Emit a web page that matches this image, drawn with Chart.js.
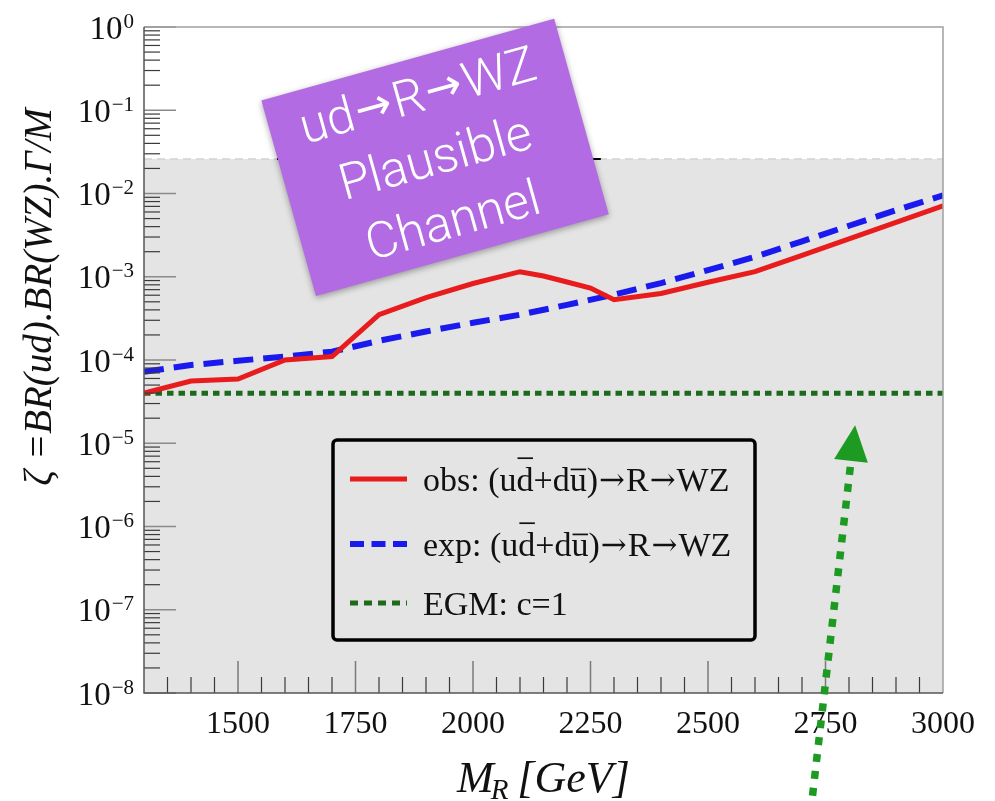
<!DOCTYPE html>
<html>
<head>
<meta charset="utf-8">
<script src="https://cdn.jsdelivr.net/npm/chart.js@4.4.1/dist/chart.umd.min.js"></script>
<style>
  html, body { margin: 0; padding: 0; background: #ffffff; }
  canvas { display: block; }
</style>
</head>
<body>
<canvas id="limit-chart" width="995" height="801"></canvas>
<script>
// Resonance mass points [GeV] and 95% CL limits on zeta
const obsMass = [1300, 1400, 1500, 1600, 1700, 1800, 1900, 2000, 2100, 2150, 2200, 2250, 2300, 2400, 2500, 2600, 2700, 2800, 2900, 3000];
const obsLimit = [4.0e-5, 5.6e-5, 5.9e-5, 1.0e-4, 1.1e-4, 3.5e-4, 5.6e-4, 8.3e-4, 1.15e-3, 1.02e-3, 8.65e-4, 7.3e-4, 5.3e-4, 6.3e-4, 8.6e-4, 1.15e-3, 1.81e-3, 2.85e-3, 4.5e-3, 7.1e-3];

const expMass = [1300, 1400, 1500, 1600, 1700, 1800, 1900, 2000, 2100, 2200, 2300, 2400, 2500, 2600, 2700, 2800, 2900, 3000];
const expLimit = [7.2e-5, 8.7e-5, 9.8e-5, 1.1e-4, 1.26e-4, 1.7e-4, 2.2e-4, 2.8e-4, 3.5e-4, 4.6e-4, 6.1e-4, 8.4e-4, 1.2e-3, 1.74e-3, 2.66e-3, 4.1e-3, 6.3e-3, 9.5e-3];

// EGM benchmark, c = 1
const egmMass = [1300, 3000];
const egmValue = [4.0e-5, 4.0e-5];

// Shaded region and the bound drawn at its top edge
const bandMass = [1300, 3000];
const bandValue = [0.026, 0.026];
const boundMass = [1583, 2272];
const boundValue = [0.026, 0.026];

// Axis ticks
const xMajorTicks = [1500, 1750, 2000, 2250, 2500, 2750, 3000];
const xMinorStep = 50;
const yDecades = [-8, -7, -6, -5, -4, -3, -2, -1, 0];

// Annotation text and anchors (in data coordinates)
const boxLines = ['ud\u2192R\u2192WZ', 'Plausible', 'Channel'];
const boxCenter = { x: 1919, y: 0.0275 };
const arrowTip = { x: 2813, y: 1.65e-5 };
const arrowTail = { x: 2721, y: 5e-10 };

const SERIF = '"Liberation Serif", "Times New Roman", serif';
const ARROW = '\u2192';

function toPoints(xs, ys) {
    return xs.map((x, i) => ({ x: x, y: ys[i] }));
}

// Draws text where a letter followed by U+0304 gets an overline,
// and arrows come from a font with a longer glyph
function drawMacronText(ctx, text, x, y, size, arrowFont) {
    const baseFont = size + 'px ' + SERIF;
    let cursor = x;
    for (let i = 0; i < text.length; i++) {
        const ch = text[i];
        if (ch === '\u0304') continue;
        if (ch === ARROW) {
            ctx.font = arrowFont;
            ctx.fillText(ch, cursor + 1, y - 1);
            cursor += ctx.measureText(ch).width + 2;
            ctx.font = baseFont;
            continue;
        }
        ctx.font = baseFont;
        ctx.fillText(ch, cursor, y);
        const w = ctx.measureText(ch).width;
        if (text[i + 1] === '\u0304') {
            const tall = 'bdfhklt'.includes(ch);
            const barY = y - (tall ? 0.95 : 0.62) * size;
            ctx.save();
            ctx.strokeStyle = ctx.fillStyle;
            ctx.lineWidth = size * 0.05;
            ctx.beginPath();
            ctx.moveTo(cursor + 1, barY);
            ctx.lineTo(cursor + w - 0.5, barY);
            ctx.stroke();
            ctx.restore();
        }
        cursor += w;
    }
}

const decorPlugin = {
    id: 'decor',
    beforeDraw(chart) {
        const ctx = chart.ctx;
        ctx.save();
        ctx.fillStyle = '#ffffff';
        ctx.fillRect(0, 0, chart.width, chart.height);
        ctx.restore();
    },
    afterDatasetsDraw(chart) {
        const ctx = chart.ctx;
        const area = chart.chartArea;
        const xs = chart.scales.x;
        const ys = chart.scales.y;

        ctx.save();
        // log minor/major ticks along the left edge
        yDecades.forEach(e => {
            const py = ys.getPixelForValue(Math.pow(10, e));
            ctx.strokeStyle = '#8a8a8a';
            ctx.lineWidth = 1.5;
            ctx.beginPath();
            ctx.moveTo(area.left, py);
            ctx.lineTo(area.left + 32, py);
            ctx.stroke();
            if (e < 0) {
                for (let m = 2; m <= 9; m++) {
                    const my = ys.getPixelForValue(m * Math.pow(10, e));
                    ctx.strokeStyle = '#3a3a3a';
                    ctx.lineWidth = 1.2;
                    ctx.beginPath();
                    ctx.moveTo(area.left, my);
                    ctx.lineTo(area.left + 16, my);
                    ctx.stroke();
                }
            }
        });
        // ticks along the bottom edge
        for (let v = xs.min + xMinorStep; v < xs.max; v += xMinorStep) {
            const px = xs.getPixelForValue(v);
            const major = xMajorTicks.includes(v);
            ctx.strokeStyle = major ? '#7a7a7a' : '#3a3a3a';
            ctx.lineWidth = major ? 1.5 : 1.2;
            ctx.beginPath();
            ctx.moveTo(px, area.bottom);
            ctx.lineTo(px, area.bottom - (major ? 32 : 16));
            ctx.stroke();
        }
        // frame
        ctx.lineWidth = 1.5;
        ctx.strokeStyle = '#a0a0a0';
        ctx.beginPath();
        ctx.moveTo(area.left, area.top);
        ctx.lineTo(area.right, area.top);
        ctx.lineTo(area.right, area.bottom);
        ctx.stroke();
        ctx.strokeStyle = '#555555';
        ctx.beginPath();
        ctx.moveTo(area.left, area.top);
        ctx.lineTo(area.left, area.bottom);
        ctx.lineTo(area.right, area.bottom);
        ctx.stroke();

        // y tick labels: 10 with a raised exponent
        ctx.fillStyle = '#111111';
        ctx.textBaseline = 'alphabetic';
        yDecades.forEach(e => {
            const py = ys.getPixelForValue(Math.pow(10, e));
            const sup = e === 0 ? '0' : '\u2212' + Math.abs(e);
            ctx.font = '21px ' + SERIF;
            const supW = ctx.measureText(sup).width;
            const right = 134;
            ctx.textAlign = 'left';
            ctx.fillText(sup, right - supW, py + 0.5);
            ctx.font = '33px ' + SERIF;
            ctx.textAlign = 'right';
            ctx.fillText('10', right - supW - 1, py + 11.5);
        });
        // x tick labels
        ctx.font = '32px ' + SERIF;
        ctx.textAlign = 'center';
        xMajorTicks.forEach(v => {
            ctx.fillText(String(v), xs.getPixelForValue(v), 733);
        });

        // x axis title: M_R [GeV]
        ctx.textAlign = 'left';
        let tx = 457;
        ctx.font = 'italic 44px ' + SERIF;
        ctx.fillText('M', tx, 792);
        tx += ctx.measureText('M').width - 3;
        ctx.font = 'italic 29px ' + SERIF;
        ctx.fillText('R', tx, 799);
        tx += ctx.measureText('R').width + 9;
        ctx.font = 'italic 44px ' + SERIF;
        ctx.fillText('[GeV]', tx, 792);

        // y axis title
        ctx.save();
        ctx.translate(51, 297);
        ctx.rotate(-Math.PI / 2);
        ctx.textAlign = 'center';
        ctx.font = 'italic 39px ' + SERIF;
        ctx.fillText('\u03B6 =BR(ud).BR(WZ).\u0393/M', 0, 0);
        ctx.restore();

        // legend box
        const lg = { left: 333, top: 440, right: 755, bottom: 640 };
        ctx.lineWidth = 3.5;
        ctx.strokeStyle = '#000000';
        ctx.beginPath();
        ctx.roundRect(lg.left, lg.top, lg.right - lg.left, lg.bottom - lg.top, 4);
        ctx.stroke();
        const rows = [479, 544, 603];
        const entries = chart.data.datasets.filter(d => d.inLegend);
        entries.forEach((d, i) => {
            const ry = rows[i];
            ctx.save();
            ctx.strokeStyle = d.borderColor;
            ctx.lineWidth = d.borderWidth;
            ctx.setLineDash(d.legendDash || []);
            ctx.beginPath();
            ctx.moveTo(350, ry);
            ctx.lineTo(407, ry);
            ctx.stroke();
            ctx.restore();
            ctx.fillStyle = '#111111';
            ctx.textAlign = 'left';
            drawMacronText(ctx, d.label, 423, ry + 11.5, 34, '31px "DejaVu Serif", serif');
        });

        // rotated label box
        const cx = xs.getPixelForValue(boxCenter.x);
        const cy = ys.getPixelForValue(boxCenter.y);
        ctx.save();
        ctx.translate(cx, cy);
        ctx.rotate(-15.6 * Math.PI / 180);
        ctx.shadowColor = 'rgba(0,0,0,0.35)';
        ctx.shadowBlur = 6;
        ctx.shadowOffsetY = 2;
        ctx.fillStyle = '#b26be2';
        ctx.fillRect(-152, -101, 304, 203);
        ctx.shadowColor = 'transparent';
        ctx.fillStyle = '#ffffff';
        ctx.textBaseline = 'middle';
        ctx.textAlign = 'left';
        const boxFont = '300 50px Roboto, "Liberation Sans", sans-serif';
        const boxArrow = '44px "DejaVu Sans", sans-serif';
        boxLines.forEach((t, i) => {
            // measure the line with the mixed fonts, then draw centered
            const parts = t.split(ARROW);
            let total = 0;
            parts.forEach((p, j) => {
                ctx.font = boxFont;
                total += ctx.measureText(p).width;
                if (j < parts.length - 1) {
                    ctx.font = boxArrow;
                    total += ctx.measureText(ARROW).width + 4;
                }
            });
            let bx = -total / 2;
            const by = -60 + i * 65;
            parts.forEach((p, j) => {
                ctx.font = boxFont;
                ctx.fillText(p, bx, by);
                bx += ctx.measureText(p).width;
                if (j < parts.length - 1) {
                    ctx.font = boxArrow;
                    ctx.fillText(ARROW, bx + 2, by - 2);
                    bx += ctx.measureText(ARROW).width + 4;
                }
            });
        });
        ctx.restore();

        // dotted arrow
        const tipX = xs.getPixelForValue(arrowTip.x);
        const tipY = ys.getPixelForValue(arrowTip.y);
        const tailX = xs.getPixelForValue(arrowTail.x);
        const tailY = ys.getPixelForValue(arrowTail.y);
        const ang = Math.atan2(tipY - tailY, tipX - tailX);
        const headLen = 36;
        const headHalf = 17;
        const baseX = tipX - headLen * Math.cos(ang);
        const baseY = tipY - headLen * Math.sin(ang);
        ctx.strokeStyle = '#1d9a22';
        ctx.fillStyle = '#1d9a22';
        ctx.lineWidth = 7.5;
        ctx.setLineDash([8, 9]);
        ctx.beginPath();
        ctx.moveTo(baseX - 6 * Math.cos(ang), baseY - 6 * Math.sin(ang));
        ctx.lineTo(tailX, tailY);
        ctx.stroke();
        ctx.setLineDash([]);
        ctx.beginPath();
        ctx.moveTo(tipX, tipY);
        ctx.lineTo(baseX + headHalf * Math.sin(ang), baseY - headHalf * Math.cos(ang));
        ctx.lineTo(baseX - headHalf * Math.sin(ang), baseY + headHalf * Math.cos(ang));
        ctx.closePath();
        ctx.fill();
        ctx.restore();
    }
};

// Axes take no room of their own; the padding fixes the plot area
function noSize(scale) {
    if (scale.isHorizontal()) {
        scale.height = 0;
    } else {
        scale.width = 0;
    }
}

const ctx = document.getElementById('limit-chart').getContext('2d');
const limitChart = new Chart(ctx, {
    type: 'line',
    data: {
        datasets: [
            {
                label: 'obs: (ud\u0304+du\u0304)\u2192R\u2192WZ',
                inLegend: true,
                data: toPoints(obsMass, obsLimit),
                borderColor: '#e81c1c',
                borderWidth: 5,
                order: 1
            },
            {
                label: 'exp: (ud\u0304+du\u0304)\u2192R\u2192WZ',
                inLegend: true,
                data: toPoints(expMass, expLimit),
                borderColor: '#1a1aee',
                borderWidth: 6,
                borderDash: [20, 10],
                legendDash: [14, 7.5],
                order: 2
            },
            {
                label: 'EGM: c=1',
                inLegend: true,
                data: toPoints(egmMass, egmValue),
                borderColor: '#1c6a1c',
                borderWidth: 5,
                borderDash: [6.5, 5],
                legendDash: [8, 6],
                order: 3
            },
            {
                label: 'bound',
                data: toPoints(boundMass, boundValue),
                borderColor: '#000000',
                borderWidth: 2,
                order: 4
            },
            {
                label: 'band',
                data: toPoints(bandMass, bandValue),
                borderColor: '#d2d2d2',
                borderWidth: 1.5,
                borderDash: [8, 5],
                backgroundColor: '#e4e4e4',
                fill: 'start',
                order: 5
            }
        ]
    },
    options: {
        responsive: false,
        animation: false,
        layout: { padding: { left: 144, top: 27, right: 52, bottom: 108 } },
        elements: { point: { radius: 0 }, line: { tension: 0 } },
        scales: {
            x: {
                type: 'linear', min: 1300, max: 3000,
                ticks: { display: false }, grid: { display: false }, border: { display: false },
                afterFit: noSize
            },
            y: {
                type: 'logarithmic', min: 1e-8, max: 1,
                ticks: { display: false }, grid: { display: false }, border: { display: false },
                afterFit: noSize
            }
        },
        plugins: { legend: { display: false }, tooltip: { enabled: false } }
    },
    plugins: [decorPlugin]
});
</script>
</body>
</html>
